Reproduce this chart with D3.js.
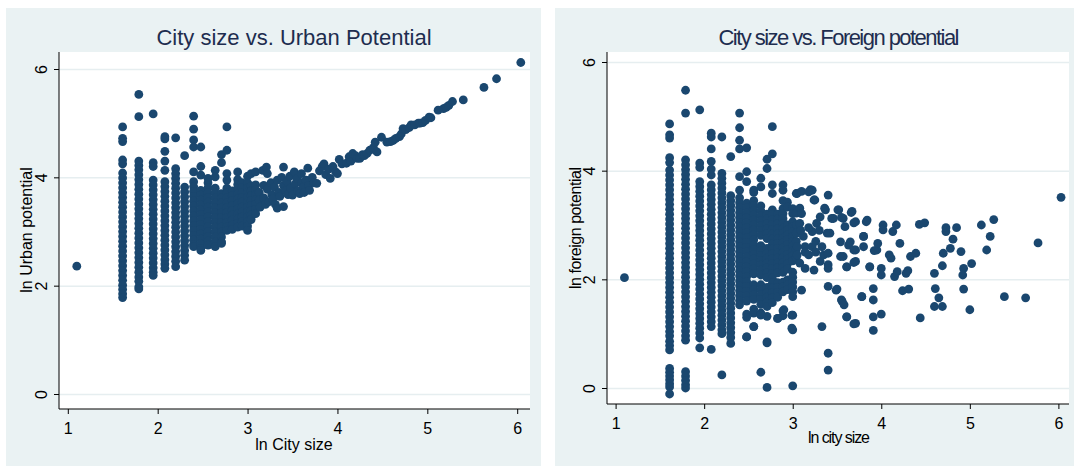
<!DOCTYPE html>
<html lang="en">
<head>
<meta charset="UTF-8">
<title>City size scatter</title>
<script src="https://cdn.jsdelivr.net/npm/d3@7"></script>
<style>
  body{margin:0;background:#fff;}
  text{font-family:"Liberation Sans",Arial,sans-serif;}
</style>
</head>
<body>
<div id="chart"></div>
<script>
// ---- left panel: ln city size vs ln urban potential ----
const urbanColX=[1.61,1.79,1.95,2.08,2.20,2.30,2.40,2.48,2.56,2.64,2.71,2.77,2.83,2.89,2.94,3.00,3.04,3.09]
const urbanColY=[
  [4.93,4.72,4.66,4.32,4.25,4.08,3.99,3.9,3.81,3.72,3.63,3.54,3.45,3.36,3.27,3.18,3.09,3.0,2.91,2.82,2.73,2.64,2.55,2.46,2.37,2.28,2.19,2.1,2.01,1.93,1.85,1.78],
  [5.53,5.12,4.3,4.22,4.14,4.05,3.96,3.87,3.78,3.69,3.6,3.51,3.42,3.33,3.24,3.15,3.06,2.97,2.88,2.79,2.7,2.61,2.52,2.43,2.34,2.25,2.16,2.08,1.98,1.94],
  [5.17,4.27,4.2,3.95,3.86,3.77,3.68,3.59,3.5,3.41,3.32,3.23,3.14,3.05,2.96,2.87,2.78,2.69,2.6,2.51,2.42,2.33,2.25,2.19],
  [4.75,4.71,4.48,4.3,4.13,3.92,3.83,3.74,3.65,3.56,3.47,3.38,3.29,3.2,3.11,3.02,2.93,2.84,2.75,2.66,2.57,2.48,2.4,2.32],
  [4.73,4.16,4.07,3.98,3.89,3.8,3.71,3.62,3.53,3.44,3.35,3.26,3.17,3.08,2.99,2.9,2.81,2.72,2.63,2.54,2.45,2.35],
  [4.4,3.82,3.73,3.64,3.55,3.46,3.37,3.28,3.19,3.1,3.01,2.92,2.83,2.74,2.65,2.56,2.47],
  [5.13,4.89,4.69,4.56,4.1,3.92,3.83,3.74,3.65,3.56,3.47,3.38,3.29,3.2,3.11,3.02,2.93,2.84,2.76,2.72],
  [4.56,4.2,4.04,3.76,3.67,3.58,3.49,3.4,3.31,3.22,3.13,3.04,2.95,2.86,2.77,2.69,2.65],
  [3.98,3.9,3.81,3.72,3.63,3.54,3.45,3.36,3.27,3.18,3.09,3.0,2.91,2.82,2.75],
  [4.13,4.01,3.8,3.71,3.62,3.53,3.44,3.35,3.26,3.17,3.08,2.99,2.9,2.81,2.72],
  [4.42,4.27,3.7,3.62,3.53,3.44,3.35,3.26,3.17,3.08,2.99,2.9,2.81,2.78],
  [4.93,4.5,4.07,3.95,3.8,3.71,3.62,3.53,3.44,3.35,3.26,3.17,3.08,3.02],
  [3.75,3.66,3.57,3.48,3.39,3.3,3.21,3.12,3.04],
  [4.1,3.96,3.87,3.78,3.69,3.6,3.51,3.42,3.33,3.24,3.15,3.08],
  [3.9,3.81,3.72,3.63,3.54,3.45,3.36,3.27,3.18,3.1],
  [4.02,3.9,3.81,3.72,3.63,3.54,3.45,3.36,3.27,3.18,3.1,3.02],
  [4.07,3.84,3.75,3.66,3.57,3.48,3.39,3.3,3.22],
  [4.1,3.86,3.77,3.68,3.59,3.5,3.41,3.33]
]
const urbanPts=[[1.10,2.36],
  [3.13,3.72],[3.13,3.58],[3.14,3.45],[3.17,4.13],[3.18,3.85],[3.18,3.62],[3.2,3.5],[3.21,4.19],[3.22,4.07],[3.22,3.78],
  [3.24,3.55],[3.26,3.9],[3.27,3.68],[3.28,3.6],[3.3,3.82],[3.31,3.5],[3.33,3.43],[3.33,3.95],[3.35,3.72],[3.36,3.65],
  [3.38,4.0],[3.4,4.19],[3.4,3.46],[3.4,3.85],[3.42,3.75],[3.44,3.92],[3.45,3.68],[3.47,4.02],[3.48,3.8],[3.5,3.67],
  [3.52,4.1],[3.53,3.88],[3.55,3.98],[3.56,3.75],[3.58,3.7],[3.6,4.07],[3.6,3.9],[3.62,3.82],[3.63,3.72],[3.65,3.95],
  [3.67,4.17],[3.68,3.85],[3.69,3.76],[3.72,4.0],[3.74,3.9],[3.77,3.89],[3.8,4.12],[3.83,4.2],[3.85,4.25],[3.87,4.05],
  [3.9,4.15],[3.92,3.98],[3.95,4.2],[3.98,4.1],[4.0,4.07],[4.02,4.33],[4.05,4.25],[4.1,4.26],[4.13,4.38],[4.15,4.3],
  [4.17,4.44],[4.2,4.4],[4.22,4.35],[4.25,4.35],[4.28,4.42],[4.3,4.4],[4.33,4.44],[4.36,4.5],[4.4,4.55],[4.42,4.65],
  [4.44,4.47],[4.49,4.74],[4.55,4.65],[4.59,4.66],[4.62,4.68],[4.65,4.72],[4.69,4.75],[4.71,4.8],[4.73,4.9],[4.76,4.88],
  [4.8,4.92],[4.82,4.97],[4.86,4.97],[4.9,5.0],[4.92,5.0],[4.95,5.01],[4.98,5.05],[5.02,5.11],[5.04,5.1],[5.12,5.24],
  [5.18,5.27],[5.21,5.29],[5.24,5.33],[5.28,5.4],[5.4,5.43],[5.63,5.66],[5.77,5.82],[6.04,6.12]
]

// ---- right panel: ln city size vs ln foreign potential ----
const foreignColX=[1.61,1.79,1.95,2.08,2.20,2.30,2.40,2.48,2.56,2.64,2.71,2.77,2.83,2.89,2.94,3.00,3.04]
const foreignColY=[
  [4.86,4.66,4.6,4.24,4.15,4.01,3.92,3.83,3.74,3.65,3.56,3.47,3.38,3.29,3.2,3.11,3.02,2.93,2.84,2.75,2.66,2.57,2.48,2.39,2.3,2.21,2.12,2.03,1.94,1.85,1.76,1.67,1.58,1.49,1.4,1.31,1.22,1.13,1.04,0.96,0.86,0.78,0.7,0.36,0.29,0.22,0.15,0.08,0.02,-0.11],
  [5.48,5.06,4.2,4.11,4.02,3.93,3.84,3.75,3.66,3.57,3.48,3.39,3.3,3.21,3.12,3.03,2.94,2.85,2.76,2.67,2.58,2.49,2.4,2.31,2.22,2.13,2.04,1.95,1.86,1.77,1.68,1.59,1.5,1.41,1.32,1.23,1.14,1.05,0.96,0.88,0.3,0.22,0.14,0.06,0.0],
  [5.12,4.14,4.06,3.8,3.71,3.62,3.53,3.44,3.35,3.26,3.17,3.08,2.99,2.9,2.81,2.72,2.63,2.54,2.45,2.36,2.27,2.18,2.09,2.0,1.91,1.82,1.73,1.64,1.55,1.46,1.37,1.28,1.19,1.1,1.01,0.92,0.74],
  [4.69,4.62,4.4,4.17,4.03,3.92,3.74,3.65,3.56,3.47,3.38,3.29,3.2,3.11,3.02,2.93,2.84,2.75,2.66,2.57,2.48,2.39,2.3,2.21,2.12,2.03,1.94,1.85,1.76,1.67,1.58,1.49,1.4,1.31,1.22,1.13,0.71],
  [4.62,3.95,3.86,3.77,3.68,3.59,3.5,3.41,3.32,3.23,3.14,3.05,2.96,2.87,2.78,2.69,2.6,2.51,2.42,2.33,2.24,2.15,2.06,1.97,1.88,1.79,1.7,1.61,1.52,1.43,1.34,1.25,1.16,1.07,1.0,0.24],
  [4.26,3.54,3.45,3.36,3.27,3.18,3.09,3.0,2.91,2.82,2.73,2.64,2.55,2.46,2.37,2.28,2.19,2.1,2.01,1.92,1.83,1.74,1.65,1.56,1.47,1.38,1.29,1.2,1.11,1.02,0.93,0.82],
  [5.06,4.79,4.56,4.4,3.89,3.64,3.5,3.41,3.32,3.23,3.14,3.05,2.96,2.87,2.78,2.69,2.6,2.51,2.42,2.33,2.24,2.15,2.06,1.97,1.88,1.79,1.7,1.61,1.53],
  [4.42,3.98,3.8,3.4,3.31,3.22,3.13,3.04,2.95,2.86,2.77,2.68,2.59,2.5,2.41,2.32,2.23,2.14,2.05,1.96,1.87,1.78,1.69,1.6,1.36,1.3,0.94],
  [3.64,3.6,3.45,3.36,3.27,3.18,3.09,3.0,2.91,2.82,2.73,2.64,2.55,2.46,2.37,2.28,2.19,2.1,1.9,1.81,1.72,1.63,1.45,1.38,1.13],
  [3.86,3.7,3.35,3.26,3.17,3.08,2.99,2.9,2.81,2.62,2.53,2.44,2.35,2.26,2.17,2.08,1.9,1.81,1.72,1.63,1.54,1.38,1.35,0.29],
  [4.21,4.04,3.2,3.11,3.02,2.93,2.84,2.75,2.57,2.48,2.39,2.3,2.21,2.12,2.03,1.85,1.76,1.67,1.58,1.5,1.32,0.83,0.01],
  [4.81,4.31,3.74,3.58,3.28,3.19,3.1,3.01,2.92,2.83,2.74,2.65,2.56,2.47,2.38,2.29,2.2,2.11,2.02,1.93,1.84,1.75,1.66,1.57],
  [3.2,3.11,3.02,2.93,2.84,2.75,2.66,2.57,2.48,2.39,2.3,2.21,2.12,1.94,1.85,1.76,1.67,1.28],
  [3.74,3.64,3.45,3.3,3.21,3.12,3.03,2.94,2.85,2.76,2.67,2.58,2.49,2.4,2.31,2.22,2.13,1.95,1.86,1.77,1.42,1.33],
  [3.42,3.33,3.0,2.91,2.82,2.73,2.64,2.55,2.46,2.37,2.28,2.19,1.99,1.9,1.81],
  [3.3,3.21,3.06,2.97,2.88,2.79,2.7,2.61,2.52,2.43,2.34,2.13,2.04,1.95,1.86,1.77,1.68,1.34,1.07,0.04],
  [3.58,3.22,3.0,2.85,2.7,2.55,2.4]
]
const foreignPts=[[1.10,2.03],
  [3.05,3.58],[3.10,3.62],[3.20,3.65],[3.40,3.55],[3.25,3.46],[3.37,3.28],[3.52,3.28],[3.67,3.25],[3.84,3.09],[3.08,3.31],
  [3.31,3.15],[3.44,3.12],[3.57,3.12],[3.71,3.06],[3.08,3.03],[3.27,3.03],[3.22,2.88],[3.39,2.85],[3.54,2.69],[3.63,2.63],
  [3.80,2.79],[3.71,2.54],[3.95,2.54],[3.12,2.79],[3.08,2.30],[3.24,2.17],[3.31,2.33],[3.40,2.27],[3.54,2.42],[3.61,2.23],
  [3.71,2.33],[3.87,2.23],[3.40,1.87],[3.50,1.82],[3.56,1.59],[3.61,1.31],[3.71,1.19],[3.78,1.68],[3.33,1.13],[3.40,0.64],
  [3.40,0.33],[3.10,1.80],[2.99,1.34],[2.99,1.10],[2.90,1.44],[2.83,1.28],[2.71,0.85],[2.64,1.34],[2.56,1.13],[2.48,0.94],
  [3.14,2.6],[3.14,2.5],[3.18,2.95],[3.18,2.45],[3.22,2.6],[3.26,2.7],[3.26,2.5],[3.3,2.9],[3.33,2.6],[3.35,2.45],
  [3.05,2.6],[3.05,2.45],[3.09,2.9],[3.14,2.2],[3.1,3.21],[3.24,3.46],[3.22,3.64],[3.18,3.61],[3.36,3.31],[3.46,3.12],
  [3.42,2.85],[3.4,2.2],[3.4,2.48],[3.49,1.8],[3.51,3.28],[3.55,3.14],[3.57,2.42],[3.55,1.62],[3.58,1.53],[3.59,2.97],
  [3.61,2.23],[3.61,1.31],[3.65,2.69],[3.66,3.23],[3.69,3.04],[3.69,2.54],[3.69,2.31],[3.69,1.18],[3.78,1.68],[3.80,2.79],
  [3.80,2.6],[3.83,3.06],[3.87,2.23],[3.91,1.83],[3.91,1.62],[3.91,1.31],[3.91,1.06],[3.92,2.53],[3.96,2.66],[4.0,2.2],
  [4.0,2.08],[4.0,1.36],[4.02,3.0],[4.02,2.91],[4.09,2.45],[4.11,2.39],[4.13,2.88],[4.15,2.05],[4.17,3.0],[4.18,2.14],
  [4.21,2.66],[4.24,1.79],[4.28,2.11],[4.3,2.16],[4.31,1.82],[4.33,2.42],[4.39,2.48],[4.43,3.01],[4.44,1.29],[4.49,3.04],
  [4.6,2.11],[4.6,1.5],[4.61,1.83],[4.65,1.66],[4.69,1.5],[4.69,2.25],[4.70,2.48],[4.73,2.88],[4.73,2.95],[4.78,2.57],
  [4.81,2.74],[4.85,2.95],[4.9,2.51],[4.93,2.2],[4.92,2.08],[4.93,1.82],[5.0,1.44],[5.02,2.29],[5.13,3.0],[5.19,2.54],
  [5.23,2.79],[5.27,3.10],[5.39,1.68],[5.63,1.66],[5.77,2.67],[6.03,3.51]
]
const xTicks=[1,2,3,4,5,6]
const yTicks=[0,2,4,6]

const dotColor='#1a476f', bgColor='#eaf2f3', gridColor='#e6eef0'
const svg=d3.select('#chart').append('svg').attr('width',1074).attr('height',466)

function drawPanel(p){
  let g=svg.append('g')
  g.append('rect').attr('x',p.bg[0]).attr('y',8).attr('width',p.bg[1]-p.bg[0]).attr('height',458).attr('fill',bgColor)
  g.append('rect').attr('x',p.left).attr('y',p.top).attr('width',p.right-p.left).attr('height',p.bottom-p.top).attr('fill','#fff')

  let x=d3.scaleLinear().domain([1,6]).range(p.xr)
  let y=d3.scaleLinear().domain([0,6]).range(p.yr)

  // grid lines
  let grid=g.append('g').attr('transform','translate('+p.left+',0)')
    .call(d3.axisLeft(y).tickValues(yTicks).tickSize(-(p.right-p.left)).tickFormat(''))
  grid.select('.domain').remove()
  grid.selectAll('line').attr('stroke',gridColor).attr('stroke-width',1.5)

  // points
  let pts=[]
  p.colX.forEach((cx,i)=>p.colY[i].forEach(v=>pts.push([cx,v])))
  p.pts.forEach(d=>pts.push(d))
  g.append('g').selectAll('circle').data(pts).enter().append('circle')
    .attr('cx',d=>x(d[0])).attr('cy',d=>y(d[1])).attr('r',4.4).attr('fill',dotColor)

  // axes
  let fmt=d3.format('d')
  let xa=g.append('g').attr('transform','translate(0,'+p.bottom+')')
    .call(d3.axisBottom(x).tickValues(xTicks).tickFormat(fmt).tickSize(5).tickSizeOuter(0))
  xa.select('.domain').remove()
  xa.selectAll('text').attr('y',25).attr('dy',null).attr('font-size',16).attr('fill','#000')
  let ya=g.append('g').attr('transform','translate('+p.left+',0)')
    .call(d3.axisLeft(y).tickValues(yTicks).tickFormat(fmt).tickSize(5).tickSizeOuter(0))
  ya.select('.domain').remove()
  ya.selectAll('text').attr('x',0).attr('y',-12.5).attr('dy',null).attr('text-anchor','middle')
    .attr('transform','rotate(-90)').attr('font-size',16).attr('fill','#000')
  g.append('line').attr('x1',p.left).attr('x2',p.left).attr('y1',p.top).attr('y2',p.bottom).attr('stroke','#000')
  g.append('line').attr('x1',p.left).attr('x2',p.right).attr('y1',p.bottom).attr('y2',p.bottom).attr('stroke','#000')

  // titles
  let t=g.append('text').attr('x',p.cx).attr('y',45).attr('text-anchor','middle').attr('font-size',22)
    .attr('fill','#1e2d4f').text(p.title)
  if(p.titleLen) t.attr('textLength',p.titleLen).attr('lengthAdjust','spacing')
  let xl=g.append('text').attr('x',p.cx).attr('y',p.xlY).attr('text-anchor','middle').attr('font-size',16)
    .attr('fill','#000').text(p.xlab)
  if(p.xlabLen) xl.attr('textLength',p.xlabLen).attr('lengthAdjust','spacing')
  let yl=g.append('text').attr('transform','translate('+p.ylX+','+p.ylY+') rotate(-90)').attr('text-anchor','middle')
    .attr('font-size',16).attr('fill','#000').text(p.ylab)
  if(p.ylabLen) yl.attr('textLength',p.ylabLen).attr('lengthAdjust','spacing')
}

drawPanel({bg:[6,541],left:59,right:530,top:52,bottom:409,xr:[67.8,517.2],yr:[394,69],
  colX:urbanColX,colY:urbanColY,pts:urbanPts,cx:294,title:'City size vs. Urban Potential',
  xlab:'ln City size',xlY:450,ylab:'ln Urban potential',ylX:32,ylY:230})
drawPanel({bg:[555,1074],left:607,right:1069,top:52,bottom:404,xr:[615.6,1058.4],yr:[388,62],
  colX:foreignColX,colY:foreignColY,pts:foreignPts,cx:839,title:'City size vs. Foreign potential',titleLen:241,
  xlab:'ln city size',xlY:443,xlabLen:62,ylab:'ln foreign potential',ylX:581,ylY:228,ylabLen:122})
</script>
</body>
</html>
